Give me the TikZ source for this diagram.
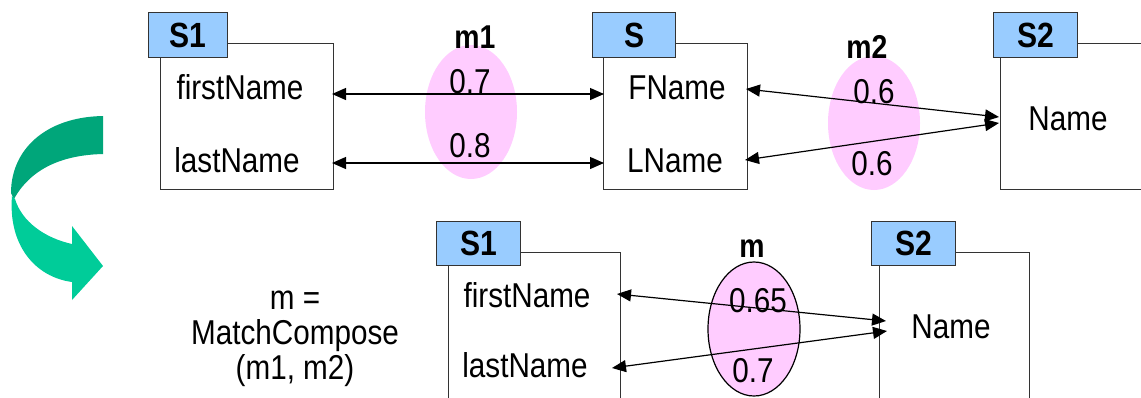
\documentclass[tikz,border=0pt]{standalone}
\usepackage{fontspec}
\setmainfont{Liberation Sans}[FakeStretch=0.86]
\usetikzlibrary{shapes.geometric,arrows.meta}
\definecolor{tabblue}{HTML}{99CCFF}
\definecolor{pinkc}{HTML}{FFCCFF}
\definecolor{boxline}{HTML}{333333}
\definecolor{greendark}{HTML}{00A67A}
\definecolor{greenlight}{HTML}{00CC99}
\tikzset{
  schemabox/.style={draw=boxline, line width=1.3pt, inner sep=0pt, anchor=north west},
  tabbox/.style={draw=boxline, fill=tabblue, line width=1.3pt, inner sep=0pt, anchor=north west,
     font=\fontsize{35}{36}\selectfont\bfseries},
  lbl/.style={inner sep=0pt, anchor=base, font=\fontsize{34.5}{36}\selectfont},
  mlbl/.style={inner sep=0pt, anchor=base, font=\fontsize{33}{34}\selectfont\bfseries},
  simell/.style={ellipse, fill=pinkc, inner sep=0pt, minimum width=92pt, minimum height=134pt},
  conn/.style={line width=1.2pt, black},
  tipBB/.style={{Triangle[length=14pt,width=12pt]}-{Triangle[length=14pt,width=12pt]}},
}
\begin{document}
\begin{tikzpicture}[x=1pt,y=-1pt]
\path[use as bounding box] (0,0) rectangle (1141,397);
\clip (0,0) rectangle (1141,397);

% green turn arrow
\fill[greendark] (103,116) .. controls (45,117) and (11,150) .. (11,193)
   -- (14,199) .. controls (30,170) and (60,155) .. (103,154) -- cycle;
\fill[greenlight] (12,196) .. controls (8,245) and (35,277) .. (72,282)
   -- (72,300) -- (103,266) -- (72,226) -- (72,244)
   .. controls (45,238) and (22,222) .. (15,199) -- cycle;

% similarity ellipses
\node[simell] (m1e) at (471,112) {};
\node[simell] (m2e) at (874,123) {};
\node[simell, draw=black, line width=1.2pt] (me) at (754,329) {};

% top schemas
\node[schemabox, minimum width=173pt, minimum height=146pt] (s1box) at (160,43) {};
\node[tabbox, minimum width=79pt, minimum height=45pt] (s1tab) at (148,12) {S1};
\node[schemabox, minimum width=144pt, minimum height=146pt] (sbox) at (603,43) {};
\node[tabbox, minimum width=83pt, minimum height=45pt] (stab) at (592,12) {S};
\node[schemabox, minimum width=180pt, minimum height=146pt] (s2box) at (1000,43) {};
\node[tabbox, minimum width=84pt, minimum height=45pt] (s2tab) at (993,12) {S2};

% bottom schemas
\node[schemabox, minimum width=172pt, minimum height=180pt] (b1box) at (448,252) {};
\node[tabbox, minimum width=84pt, minimum height=44pt] (b1tab) at (436,221) {S1};
\node[schemabox, minimum width=150pt, minimum height=180pt] (b2box) at (879,252) {};
\node[tabbox, minimum width=84pt, minimum height=44pt] (b2tab) at (871,221) {S2};

% element texts
\node[lbl] (t1fn) at (240,99) {firstName};
\node[lbl] (t1ln) at (237,172) {lastName};
\node[lbl] (tsfn) at (677,99) {FName};
\node[lbl] (tsln) at (675,172) {LName};
\node[lbl] (t2n) at (1068,130) {Name};
\node[lbl] (b1fn) at (527,307) {firstName};
\node[lbl] (b1ln) at (525,377) {lastName};
\node[lbl] (b2n) at (951,338) {Name};

% connector end points
\coordinate (p1a) at (332,94);
\coordinate (p1b) at (604,94);
\coordinate (p2a) at (332,163);
\coordinate (p2b) at (604,163);
\coordinate (p3a) at (746,89);
\coordinate (p3b) at (999,117);
\coordinate (p4a) at (745,160);
\coordinate (p4b) at (999,123);
\coordinate (q1a) at (617,294);
\coordinate (q1b) at (886,321);
\coordinate (q2a) at (612,368);
\coordinate (q2b) at (887,331);

\draw[conn, tipBB] (p1a) -- (p1b);
\draw[conn, tipBB] (p2a) -- (p2b);
\draw[conn, tipBB] (p3a) -- (p3b);
\draw[conn, tipBB] (p4a) -- (p4b);
\draw[conn, tipBB] (q1a) -- (q1b);
\draw[conn, tipBB] (q2a) -- (q2b);

% mapping labels
\node[mlbl] (m1l) at (475,48) {m1};
\node[mlbl] (m2l) at (867,58) {m2};
\node[mlbl] (ml) at (752,257) {m};
\node[lbl] (v1) at (470,93) {0.7};
\node[lbl] (v2) at (470,157) {0.8};
\node[lbl] (v3) at (874,103) {0.6};
\node[lbl] (v4) at (872,175) {0.6};
\node[lbl] (v5) at (758,312) {0.65};
\node[lbl] (v6) at (753,382) {0.7};

% operation text
\node[lbl, anchor=center, align=center, font=\fontsize{34.5}{35}\selectfont] (op) at (295,339)
  {m =\\MatchCompose\\(m1, m2)};
\end{tikzpicture}
\end{document}
